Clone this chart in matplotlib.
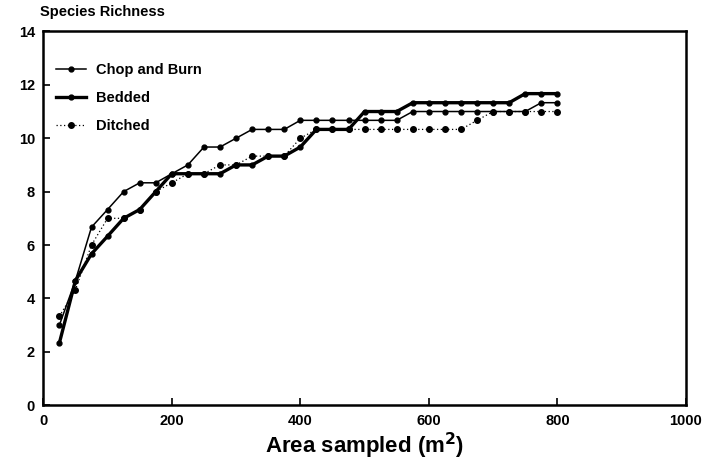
import matplotlib.pyplot as plt

plt.rcParams['font.family'] = ['Liberation Sans', 'DejaVu Sans']

# Area sampled (m^2)
area = [25, 50, 75, 100, 125, 150, 175, 200, 225, 250, 275, 300, 325, 350, 375, 400,
        425, 450, 475, 500, 525, 550, 575, 600, 625, 650, 675, 700, 725, 750, 775, 800]

# Species richness per treatment
chop_burn = [3.0, 4.67, 6.67, 7.33, 8.0, 8.33, 8.33, 8.67, 9.0, 9.67, 9.67, 10.0, 10.33, 10.33, 10.33, 10.67,
             10.67, 10.67, 10.67, 10.67, 10.67, 10.67, 11.0, 11.0, 11.0, 11.0, 11.0, 11.0, 11.0, 11.0, 11.33, 11.33]
bedded = [2.33, 4.67, 5.67, 6.33, 7.0, 7.33, 8.0, 8.67, 8.67, 8.67, 8.67, 9.0, 9.0, 9.33, 9.33, 9.67,
          10.33, 10.33, 10.33, 11.0, 11.0, 11.0, 11.33, 11.33, 11.33, 11.33, 11.33, 11.33, 11.33, 11.67, 11.67, 11.67]
ditched = [3.33, 4.33, 6.0, 7.0, 7.0, 7.33, 8.0, 8.33, 8.67, 8.67, 9.0, 9.0, 9.33, 9.33, 9.33, 10.0,
           10.33, 10.33, 10.33, 10.33, 10.33, 10.33, 10.33, 10.33, 10.33, 10.33, 10.67, 11.0, 11.0, 11.0, 11.0, 11.0]

xticks = [0, 200, 400, 600, 800, 1000]
yticks = [0, 2, 4, 6, 8, 10, 12, 14]

fig = plt.figure(figsize=(7.1, 4.69), dpi=100)
ax = fig.add_axes([0.061, 0.136, 0.905, 0.797])

ax.plot(area, chop_burn, color='black', lw=1.1, marker='o', ms=3.5, label='Chop and Burn')
ax.plot(area, bedded, color='black', lw=2.4, marker='o', ms=3.5, label='Bedded')
ax.plot(area, ditched, color='black', lw=0.9, ls=(0, (1, 2)), marker='o', ms=4, label='Ditched')

ax.set_xlim(0, 1000)
ax.set_ylim(0, 14)
ax.set_xticks(xticks)
ax.set_yticks(yticks)
ax.tick_params(direction='in', length=5, width=1.2, labelsize=10.5, pad=6)
for lab in ax.get_xticklabels() + ax.get_yticklabels():
    lab.set_fontweight('bold')
for sp in ax.spines.values():
    sp.set_linewidth(1.8)

ax.set_xlabel('Area sampled (m$^{\\mathbf{2}}$)', fontsize=16, fontweight='bold', labelpad=2)
fig.text(0.057, 0.99, 'Species Richness', fontsize=10.5, fontweight='bold', va='top', ha='left')

leg = ax.legend(loc='upper left', bbox_to_anchor=(0.0, 0.95), frameon=False,
                handlelength=2.0, handletextpad=0.7, labelspacing=0.95,
                prop={'weight': 'bold', 'size': 10.5})

fig.savefig('out.png', dpi=100)
